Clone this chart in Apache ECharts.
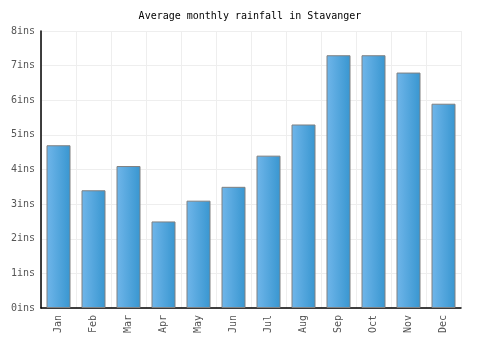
<!DOCTYPE html>
<html>
<head>
<meta charset="utf-8">
<script src="https://cdn.jsdelivr.net/npm/echarts@6/dist/echarts.min.js"></script>
<style>
  html, body { margin: 0; padding: 0; background: #fff; }
  #chart { width: 500px; height: 350px; }
</style>
</head>
<body>
<div id="chart"></div>
<script>
  const months = ['Jan', 'Feb', 'Mar', 'Apr', 'May', 'Jun', 'Jul', 'Aug', 'Sep', 'Oct', 'Nov', 'Dec']
  const rainfall = [4.7, 3.4, 4.1, 2.5, 3.1, 3.5, 4.4, 5.3, 7.3, 7.3, 6.8, 5.9]
  const font = 'DejaVu Sans Mono'

  const chart = echarts.init(document.getElementById('chart'))
  chart.setOption({
    animation: false,
    title: {
      text: 'Average monthly rainfall in Stavanger',
      left: 'center',
      top: 6,
      textStyle: { fontFamily: font, fontSize: 10, fontWeight: 'normal', color: '#000' },
    },
    grid: { left: 41, right: 39, top: 31, bottom: 42 },
    xAxis: {
      type: 'category',
      data: months,
      axisLine: { lineStyle: { color: '#000', width: 1.5 } },
      axisTick: { show: false },
      axisLabel: { rotate: 90, color: '#555', fontFamily: font, fontSize: 10, margin: 7 },
      splitLine: { show: true, lineStyle: { color: '#eeeeee' } },
    },
    yAxis: {
      type: 'value',
      min: 0,
      max: 8,
      interval: 1,
      axisLine: { show: true, lineStyle: { color: '#000', width: 1.5 } },
      axisTick: { show: false },
      axisLabel: { formatter: '{value}ins', color: '#555', fontFamily: font, fontSize: 10, margin: 6 },
      splitLine: { lineStyle: { color: '#eeeeee' } },
    },
    series: [{
      type: 'bar',
      data: rainfall,
      barWidth: 24,
      itemStyle: {
        borderColor: '#808080',
        borderWidth: 1,
        color: new echarts.graphic.LinearGradient(0, 0, 1, 0, [
          { offset: 0, color: '#70b6ea' },
          { offset: 1, color: '#3896d0' },
        ]),
      },
    }],
  })
</script>
</body>
</html>
